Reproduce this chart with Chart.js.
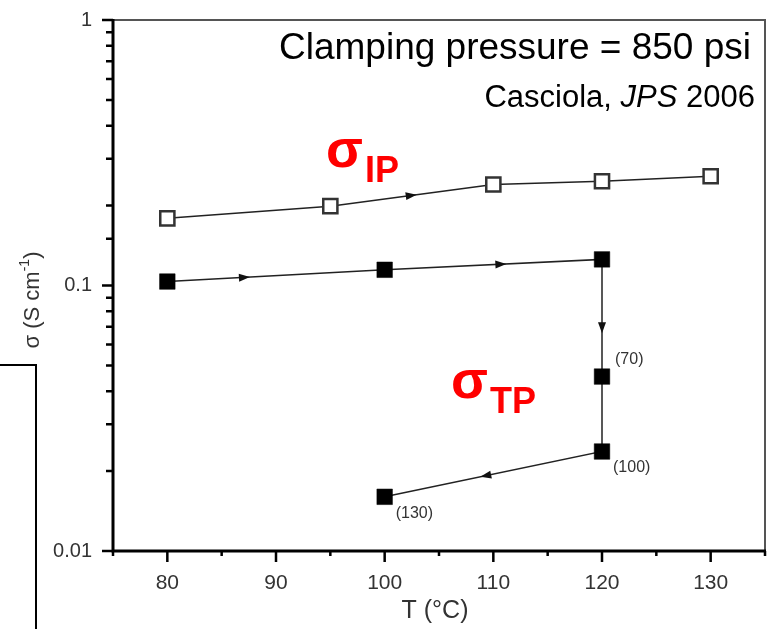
<!DOCTYPE html>
<html>
<head>
<meta charset="utf-8">
<script src="https://cdn.jsdelivr.net/npm/chart.js@4/dist/chart.umd.min.js"></script>
<style>
  body { margin: 0; background: #fff; }
  #wrap { position: relative; width: 769px; height: 629px; }
  #edge { position: absolute; left: 0; top: 364px; width: 35px; height: 265px;
          border-top: 2px solid #000; border-right: 2px solid #000; }
</style>
</head>
<body>
<div id="wrap">
  <canvas id="chart" width="769" height="629"></canvas>
  <div id="edge"></div>
</div>
<script>
// in-plane conductivity (open squares)
const T_IP = [80, 95, 110, 120, 130];
const SIGMA_IP = [0.179, 0.199, 0.240, 0.247, 0.258];

// through-plane conductivity (filled squares), in measurement order
const T_TP = [80, 100, 120, 120, 120, 100];
const SIGMA_TP = [0.1035, 0.1146, 0.1254, 0.0454, 0.0237, 0.0160];
const TP_LABELS = ['', '', '', '(70)', '(100)', '(130)'];

const X_LABELS = [80, 90, 100, 110, 120, 130];
const Y_LABELS = ['0.01', '0.1', '1'];

// arrow position along each segment (fraction), null = no arrow
const ARROWS = [
  [null, 0.53, null, null],
  [0.38, 0.56, 0.63, null, 0.56]
];
const LABEL_OFFSETS = [null, null, null, [13, -17], [11, 16], [11, 17]];

const FONT = '"Liberation Sans", Arial, sans-serif';

function isDecade(v) {
  const l = Math.log10(v);
  return Math.abs(l - Math.round(l)) < 1e-6;
}

function drawArrow(ctx, a, b, f) {
  const dx = b.x - a.x, dy = b.y - a.y;
  const len = Math.hypot(dx, dy);
  const ux = dx / len, uy = dy / len;
  const tx = a.x + dx * f, ty = a.y + dy * f;
  const L = 11, W = 4;
  ctx.beginPath();
  ctx.moveTo(tx, ty);
  ctx.lineTo(tx - ux * L - uy * W, ty - uy * L + ux * W);
  ctx.lineTo(tx - ux * L + uy * W, ty - uy * L - ux * W);
  ctx.closePath();
  ctx.fill();
}

const decor = {
  id: 'decor',
  afterDatasetsDraw(chart) {
    const ctx = chart.ctx;
    ctx.save();
    ctx.fillStyle = '#111';
    ARROWS.forEach((list, di) => {
      const pts = chart.getDatasetMeta(di).data;
      list.forEach((f, j) => {
        if (f !== null) drawArrow(ctx, pts[j], pts[j + 1], f);
      });
    });
    // point labels on the through-plane series
    const pts = chart.getDatasetMeta(1).data;
    ctx.font = '16px ' + FONT;
    ctx.fillStyle = '#333';
    ctx.textAlign = 'left';
    ctx.textBaseline = 'middle';
    TP_LABELS.forEach((t, i) => {
      if (!t) return;
      const o = LABEL_OFFSETS[i];
      ctx.fillText(t, pts[i].x + o[0], pts[i].y + o[1]);
    });
    ctx.restore();
  },
  afterDraw(chart) {
    const ctx = chart.ctx;
    const a = chart.chartArea;
    const xs = chart.scales.x, ys = chart.scales.y;
    ctx.save();

    // frame: thin top/right, heavy left/bottom
    ctx.strokeStyle = '#555';
    ctx.lineWidth = 2;
    ctx.beginPath();
    ctx.moveTo(a.left, a.top);
    ctx.lineTo(a.right, a.top);
    ctx.lineTo(a.right, a.bottom);
    ctx.stroke();
    ctx.strokeStyle = '#000';
    ctx.lineWidth = 3;
    ctx.beginPath();
    ctx.moveTo(a.left, a.top - 1);
    ctx.lineTo(a.left, a.bottom);
    ctx.lineTo(a.right + 1, a.bottom);
    ctx.stroke();

    // tick marks
    ctx.lineWidth = 2.5;
    ctx.beginPath();
    xs.ticks.forEach(t => {
      const px = xs.getPixelForValue(t.value);
      const len = X_LABELS.includes(t.value) ? 11 : 5;
      ctx.moveTo(px, a.bottom);
      ctx.lineTo(px, a.bottom + len);
    });
    ys.ticks.forEach(t => {
      const py = ys.getPixelForValue(t.value);
      const len = isDecade(t.value) ? 11 : 7;
      ctx.moveTo(a.left, py);
      ctx.lineTo(a.left - len, py);
    });
    ctx.stroke();

    // axis titles
    ctx.fillStyle = '#333';
    ctx.font = '25px ' + FONT;
    ctx.textAlign = 'center';
    ctx.textBaseline = 'middle';
    ctx.fillText('T (°C)', (a.left + a.right) / 2 - 4, 611);

    ctx.save();
    ctx.translate(33, 300);
    ctx.rotate(-Math.PI / 2);
    ctx.textBaseline = 'middle';
    ctx.textAlign = 'left';
    const main = '22px ' + FONT, sup = '14px ' + FONT;
    ctx.font = main;
    const p1 = 'σ (S cm', p3 = ')';
    const w1 = ctx.measureText(p1).width, w3 = ctx.measureText(p3).width;
    ctx.font = sup;
    const w2 = ctx.measureText('-1').width;
    let x0 = -(w1 + w2 + w3) / 2;
    ctx.font = main;
    ctx.fillText(p1, x0, 0);
    ctx.font = sup;
    ctx.fillText('-1', x0 + w1, -8);
    ctx.font = main;
    ctx.fillText(p3, x0 + w1 + w2, 0);
    ctx.restore();

    // header notes
    ctx.fillStyle = '#000';
    ctx.textBaseline = 'alphabetic';
    ctx.textAlign = 'right';
    ctx.font = '37px ' + FONT;
    ctx.fillText('Clamping pressure = 850 psi', a.right - 14, 59);

    ctx.textAlign = 'left';
    const parts = [['Casciola, ', ''], ['JPS', 'italic '], [' 2006', '']];
    let total = 0;
    parts.forEach(p => { ctx.font = p[1] + '31px ' + FONT; total += ctx.measureText(p[0]).width; });
    let cx = a.right - 10 - total;
    parts.forEach(p => {
      ctx.font = p[1] + '31px ' + FONT;
      ctx.fillText(p[0], cx, 107);
      cx += ctx.measureText(p[0]).width;
    });

    // series labels
    ctx.fillStyle = '#ff0000';
    const sig = (T, s, sub) => {
      const x = xs.getPixelForValue(T), y = ys.getPixelForValue(s);
      ctx.font = 'bold 54px ' + FONT;
      ctx.fillText('σ', x, y);
      const w = ctx.measureText('σ').width;
      ctx.font = 'bold 36px ' + FONT;
      ctx.fillText(sub, x + w + 2, y + 15);
    };
    sig(94.6, 0.279, 'IP');
    sig(106.1, 0.0377, 'TP');

    ctx.restore();
  }
};

new Chart(document.getElementById('chart'), {
  type: 'scatter',
  data: {
    datasets: [
      {
        label: 'σIP',
        data: T_IP.map((t, i) => ({ x: t, y: SIGMA_IP[i] })),
        showLine: true,
        borderColor: '#222',
        borderWidth: 1.5,
        pointStyle: 'rect',
        pointRadius: 10,
        pointBackgroundColor: '#fff',
        pointBorderColor: '#333',
        pointBorderWidth: 2.5
      },
      {
        label: 'σTP',
        data: T_TP.map((t, i) => ({ x: t, y: SIGMA_TP[i] })),
        showLine: true,
        borderColor: '#222',
        borderWidth: 1.5,
        pointStyle: 'rect',
        pointRadius: 11,
        pointBackgroundColor: '#000',
        pointBorderColor: '#000',
        pointBorderWidth: 0.5
      }
    ]
  },
  options: {
    responsive: false,
    animation: false,
    layout: { autoPadding: false, padding: { top: 20, right: 4, left: 0, bottom: 0 } },
    plugins: { legend: { display: false }, tooltip: { enabled: false } },
    scales: {
      x: {
        type: 'linear',
        min: 75,
        max: 135,
        afterFit: s => { s.height = 78; s.paddingLeft = 0; s.paddingRight = 0; },
        grid: { display: false, drawTicks: false },
        border: { display: false },
        ticks: {
          stepSize: 5,
          autoSkip: false,
          maxRotation: 0,
          padding: 20,
          color: '#333',
          font: { family: FONT, size: 21 },
          callback: v => X_LABELS.includes(v) ? String(v) : ''
        }
      },
      y: {
        type: 'logarithmic',
        min: 0.01,
        max: 1,
        afterFit: s => { s.width = 113; s.paddingTop = 0; s.paddingBottom = 0; },
        grid: { display: false, drawTicks: false },
        border: { display: false },
        ticks: {
          autoSkip: false,
          padding: 21,
          color: '#333',
          font: { family: FONT, size: 20 },
          callback: v => {
            const lab = Y_LABELS.find(l => Math.abs(Number(l) - v) < Number(l) * 1e-6);
            return lab || '';
          }
        }
      }
    }
  },
  plugins: [decor]
});
</script>
</body>
</html>
